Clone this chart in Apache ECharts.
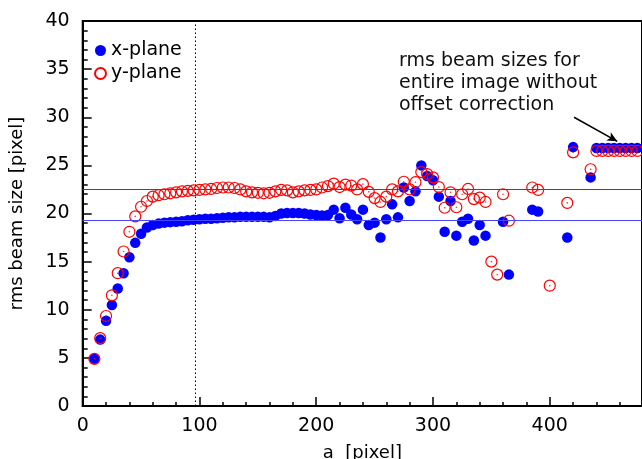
<!DOCTYPE html>
<html><head><meta charset="utf-8">
<script src="https://cdn.jsdelivr.net/npm/echarts@6/dist/echarts.min.js"></script>
<style>html,body{margin:0;padding:0;background:#fff}#c{width:642px;height:459px}</style>
</head><body><div id="c"></div>
<script>
// x-plane (filled blue) : a positions and rms sizes
const xPlaneA = [10,15,20,25,30,35,40,45,50,55,60,65,70,75,80,85,90,95,100,105,110,115,120,125,130,135,140,145,150,155,160,165,170,175,180,185,190,195,200,205,210,215,220,225,230,235,240,245,250,255,260,265,270,275,280,285,290,295,300,305,310,315,320,325,330,335,340,345,360,365,385,390,415,420,435,440,445,450,455,460,465,470,475];
const xPlaneV = [4.9,6.9,8.85,10.5,12.2,13.8,15.45,16.95,17.9,18.55,18.8,18.95,19.05,19.1,19.15,19.2,19.3,19.35,19.4,19.45,19.45,19.5,19.55,19.6,19.6,19.65,19.65,19.65,19.65,19.65,19.6,19.75,20.0,20.05,20.05,20.05,20.0,19.9,19.85,19.8,19.85,20.4,19.5,20.6,19.9,19.4,20.4,18.8,19.05,17.5,19.4,20.95,19.6,22.7,21.3,22.3,25.0,23.9,23.45,21.75,18.1,21.3,17.7,19.15,19.45,17.2,18.8,17.7,19.15,13.65,20.4,20.2,17.5,26.9,23.75,26.8,26.8,26.8,26.8,26.8,26.8,26.8,26.8];
// y-plane (open red)
const yPlaneA = [10,15,20,25,30,35,40,45,50,55,60,65,70,75,80,85,90,95,100,105,110,115,120,125,130,135,140,145,150,155,160,165,170,175,180,185,190,195,200,205,210,215,220,225,230,235,240,245,250,255,260,265,270,275,280,285,290,295,300,305,310,315,320,325,330,335,340,345,350,355,360,365,385,390,400,415,420,435,440,445,450,455,460,465,470,475];
const yPlaneV = [4.9,7.05,9.35,11.5,13.8,16.05,18.1,19.7,20.7,21.3,21.75,21.9,22.0,22.1,22.2,22.3,22.35,22.4,22.45,22.5,22.55,22.65,22.7,22.7,22.65,22.5,22.3,22.2,22.15,22.1,22.15,22.3,22.45,22.4,22.2,22.3,22.4,22.45,22.5,22.7,22.85,23.1,22.75,23.0,22.9,22.5,23.05,22.25,21.6,21.2,21.75,22.5,22.3,23.3,22.5,23.25,24.3,24.1,23.75,22.75,20.6,22.2,20.65,22.0,22.55,21.5,21.65,21.2,15.0,13.65,22.0,19.25,22.7,22.45,12.5,21.1,26.35,24.6,26.5,26.5,26.5,26.5,26.5,26.5,26.5,26.5];
// reference lines
const meanX = 19.3, meanY = 22.5, cutA = 96;
// axis ticks
const xTicks = {min:0, max:479, interval:100};
const yTicks = {min:0, max:40, interval:5};
const noteLines = ['rms beam sizes for','entire image without','offset correction'];
const arrowFrom = [420.8, 30.0], arrowTo = [457.8, 27.5];

const xData = xPlaneA.map((a,i)=>[a,xPlaneV[i]]);
const yData = yPlaneA.map((a,i)=>[a,yPlaneV[i]]);
const FONT = 'DejaVu Sans';

function lineSeries(name, data, color, width, type, sym, symSize){
  return {
    name:name, type:'scatter', data:[], silent:true, z:1,
    markLine:{
      silent:true, animation:false, label:{show:false},
      symbol:sym || 'none', symbolSize:symSize || 0,
      lineStyle:{color:color, width:width, type:type, opacity:1},
      itemStyle:{color:color},
      emphasis:{disabled:true},
      data:data
    }
  };
}

const chart = echarts.init(document.getElementById('c'), null, {renderer:'canvas'});
chart.setOption({
  animation:false,
  backgroundColor:'#fff',
  grid:{left:82.7, right:0, top:21, bottom:53, show:true, borderColor:'#000', borderWidth:2, containLabel:false, outerBoundsMode:'none'},
  legend:{
    left:89, top:36, orient:'vertical', itemGap:4, itemWidth:11, itemHeight:11, textGap:5,
    data:['x-plane','y-plane'],
    textStyle:{fontFamily:FONT, fontSize:19, color:'#000'}
  },
  xAxis:{
    type:'value', min:xTicks.min, max:xTicks.max, interval:xTicks.interval,
    name:'a  [pixel]', nameLocation:'middle', nameGap:38,
    nameTextStyle:{fontFamily:FONT, fontSize:18, color:'#000'},
    axisLine:{show:true, lineStyle:{color:'#000', width:2}},
    axisTick:{show:true, inside:true, length:9, lineStyle:{color:'#000', width:1.5}},
    minorTick:{show:true, splitNumber:5, length:4, lineStyle:{color:'#000', width:1.5}},
    axisLabel:{fontFamily:FONT, fontSize:19, color:'#000', margin:11, showMaxLabel:false},
    splitLine:{show:false}
  },
  yAxis:{
    type:'value', min:yTicks.min, max:yTicks.max, interval:yTicks.interval,
    name:'rms beam size [pixel]', nameLocation:'middle', nameGap:56,
    nameTextStyle:{fontFamily:FONT, fontSize:18, color:'#000'},
    axisLine:{show:true, lineStyle:{color:'#000', width:2}},
    axisTick:{show:true, inside:true, length:9, lineStyle:{color:'#000', width:1.5}},
    minorTick:{show:true, splitNumber:5, length:5, lineStyle:{color:'#000', width:1.5}},
    axisLabel:{fontFamily:FONT, fontSize:19, color:'#000', margin:13},
    splitLine:{show:false}
  },
  graphic:[{
    type:'text', left:399, top:50,
    style:{text:noteLines.join('\n'), fontFamily:FONT, fontSize:19, lineHeight:22, fill:'#111'}
  }],
  series:[
    lineSeries('meanX', [{yAxis:meanX}], '#4646ff', 1, 'solid'),
    lineSeries('meanY', [{yAxis:meanY}], '#ff0000', 1, 'solid'),
    lineSeries('cut', [{xAxis:cutA}], '#000000', 1, [1.5,2.5]),
    lineSeries('arrow', [[{coord:arrowFrom},{coord:arrowTo}]], '#000000', 1.5, 'solid', ['none','arrow'], [7,10]),
    {
      name:'x-plane', type:'scatter', data:xData, symbol:'circle', symbolSize:10.5,
      itemStyle:{color:'#0000ff', opacity:1}, z:2
    },
    {
      name:'y-plane', type:'scatter', data:yData, symbol:'circle', symbolSize:11,
      itemStyle:{color:'rgba(255,255,255,0)', borderColor:'#ff0000', borderWidth:1.2, opacity:1},
      z:3
    },
    {
      name:'y-center', type:'scatter', data:yData, symbol:'circle', symbolSize:1.6, silent:true,
      itemStyle:{color:'#ff0000'}, z:4
    }
  ]
});
</script></body></html>
